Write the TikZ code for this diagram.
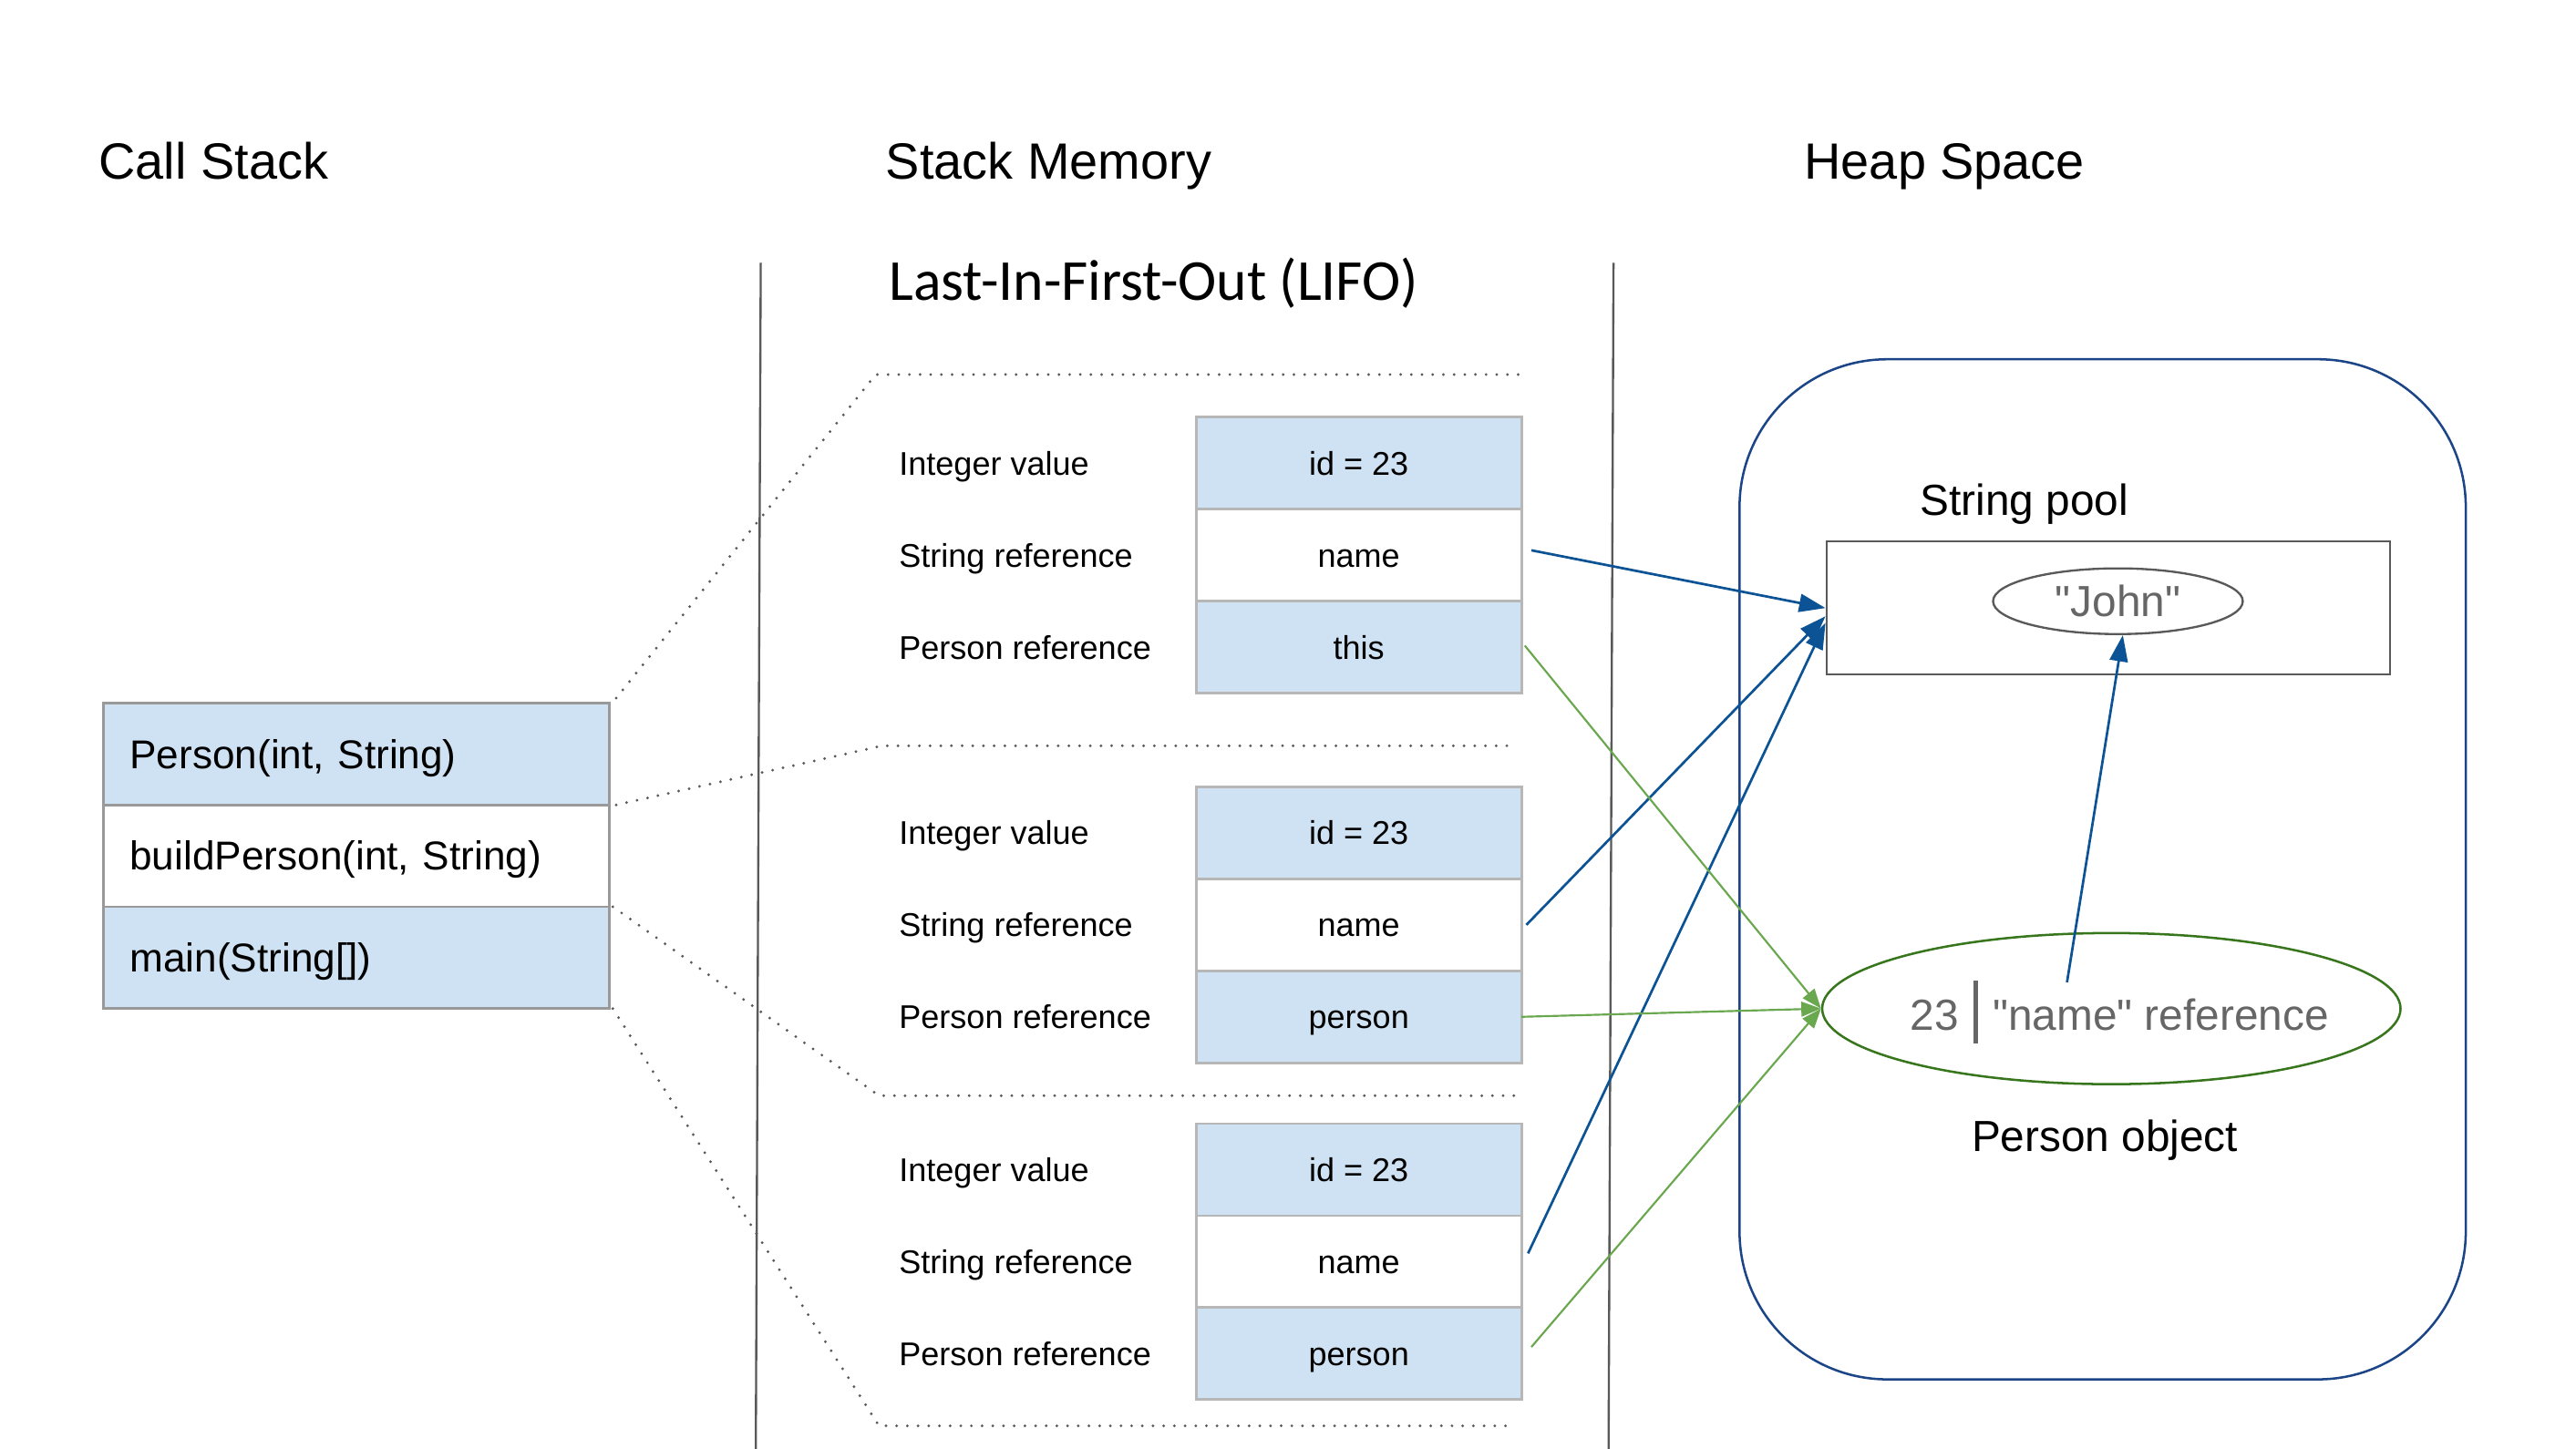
\documentclass[tikz,border=0pt]{standalone}
\usepackage{fontspec}
\setmainfont{Liberation Sans}
\newfontfamily\plainfont{Liberation Sans}
\newfontfamily\lifofont{Carlito}
\usetikzlibrary{positioning,shapes.geometric,arrows.meta}
\definecolor{cellblue}{HTML}{CFE2F3}
\definecolor{cellgrey}{HTML}{B7B7B7}
\definecolor{callgrey}{HTML}{999999}
\definecolor{refblue}{HTML}{0B5394}
\definecolor{refgreen}{HTML}{6AA84F}
\definecolor{objgreen}{HTML}{38761D}
\definecolor{heapblue}{HTML}{1C4587}
\definecolor{linegrey}{HTML}{595959}
\definecolor{textgrey}{HTML}{666666}
\begin{document}
\begin{tikzpicture}[x=1pt, y=-1pt,
    title/.style={font=\fontsize{31}{37}\selectfont, anchor=base west, inner sep=0pt},
    heading/.style={font=\fontsize{26.5}{32}\selectfont, anchor=base, inner sep=0pt},
    callrow/.style={draw=callgrey, line width=1.5pt, outer sep=0pt, text width=276pt, inner xsep=16pt,
        minimum height=62pt, text height=17.5pt, text depth=0pt, align=left, font=\fontsize{24.5}{29}\selectfont},
    slot/.style={draw=cellgrey, line width=1.5pt, outer sep=0pt, minimum width=198pt, minimum height=56pt,
        text height=14.5pt, text depth=0pt, font=\fontsize{20}{24}\selectfont},
    kind/.style={anchor=west, inner sep=0pt, text height=14.5pt, text depth=0pt, font=\fontsize{20}{24}\selectfont},
    frameline/.style={draw=linegrey, line width=1.8pt, line cap=round, dash pattern=on 0pt off 6.5pt},
    divider/.style={draw=linegrey, line width=1.3pt},
    ref/.style={-{Triangle[length=16pt,width=11pt]}, line width=1.5pt, color=refblue},
    objref/.style={-{Triangle[length=12pt,width=9pt]}, line width=1.2pt, color=refgreen}]
\useasboundingbox (0,0) rectangle (1567.8,882);

\node[title] (cstitle) at (60,109) {Call Stack};
\node[title] (smtitle) at (539,109) {Stack Memory};
\node[title] (hstitle) at (1098,109) {Heap Space};
\node[anchor=base west, inner sep=0pt, font=\lifofont\fontsize{35.3}{42}\selectfont] (lifo) at (541,183) {Last-In-First-Out (LIFO)};

\coordinate (d1top) at (463,160);
\coordinate (d1bot) at (460,882);
\coordinate (d2top) at (982,160);
\coordinate (d2bot) at (979,882);
\draw[divider] (d1top) -- (d1bot);
\draw[divider] (d2top) -- (d2bot);

\node[callrow, fill=cellblue, anchor=north west] (ctor) at (63,428) {Person(int, String)};
\node[callrow, below=0pt of ctor] (build) {buildPerson(int, String)};
\node[callrow, fill=cellblue, below=0pt of build] (main) {main(String[])};

\node[slot, fill=cellblue, anchor=north west] (id1) at (728,254) {id = 23};
\node[slot, below=0pt of id1] (name1) {name};
\node[slot, fill=cellblue, below=0pt of name1] (this1) {this};
\node[kind] (int1) at (547,0 |- id1) {Integer value};
\node[kind] (str1) at (547,0 |- name1) {String reference};
\node[kind] (pers1) at (547,0 |- this1) {Person reference};

\node[slot, fill=cellblue, anchor=north west] (id2) at (728,479) {id = 23};
\node[slot, below=0pt of id2] (name2) {name};
\node[slot, fill=cellblue, below=0pt of name2] (person2) {person};
\node[kind] (int2) at (547,0 |- id2) {Integer value};
\node[kind] (str2) at (547,0 |- name2) {String reference};
\node[kind] (pers2) at (547,0 |- person2) {Person reference};

\node[slot, fill=cellblue, anchor=north west] (id3) at (728,684) {id = 23};
\node[slot, below=0pt of id3] (name3) {name};
\node[slot, fill=cellblue, below=0pt of name3] (person3) {person};
\node[kind] (int3) at (547,0 |- id3) {Integer value};
\node[kind] (str3) at (547,0 |- name3) {String reference};
\node[kind] (pers3) at (547,0 |- person3) {Person reference};

\coordinate (f1a) at (533,228);
\coordinate (f1b) at (925,228);
\coordinate (f2a) at (537,454);
\coordinate (f2b) at (922,454);
\coordinate (f3a) at (535,667);
\coordinate (f3b) at (922,667);
\coordinate (f4a) at (535,868);
\coordinate (f4b) at (922,868);
\draw[frameline] ([xshift=4pt,yshift=3pt]ctor.north east) -- (f1a) -- (f1b);
\draw[frameline] ([xshift=4pt]ctor.south east) -- (f2a) -- (f2b);
\draw[frameline] ([xshift=2pt]build.south east) -- (f3a) -- (f3b);
\draw[frameline] ([xshift=2pt]main.south east) -- (f4a) -- (f4b);

\node[draw=heapblue, line width=1.4pt, rounded corners=90pt, minimum width=442pt, minimum height=621pt,
    anchor=north west] (heap) at (1058,218) {};
\node[heading] (pooltitle) at (1232,314) {String pool};
\node[draw=linegrey, line width=1.3pt, minimum width=343pt, minimum height=81pt, inner sep=0pt,
    anchor=north west] (pool) at (1111,329) {};
\node[ellipse, draw=linegrey, line width=1.3pt, minimum width=152pt, minimum height=40pt, inner sep=0pt,
    text=textgrey, font=\plainfont\fontsize{26.5}{32}\selectfont] (john) at (1289,366) {"John"};
\node[ellipse, draw=objgreen, line width=1.4pt, minimum width=352pt, minimum height=92pt, inner sep=0pt] (obj) at (1285,614) {};
\node[text=textgrey, inner sep=0pt, font=\plainfont\fontsize{26.5}{32}\selectfont] (objval) at (1290,616)
    {23\hspace{9pt}\rule[-8pt]{2.8pt}{38pt}\hspace{9pt}"name" reference};
\node[heading] (objtitle) at (1281,701) {Person object};

\draw[ref] ([xshift=6pt,yshift=3pt]name1.east) -- (pool.west);
\draw[ref] ([xshift=3pt]name2.east) -- ([yshift=-5pt]pool.west);
\draw[ref] ([xshift=4pt,yshift=5pt]name3.east) -- ([yshift=-9pt]pool.west);
\draw[ref] ([xshift=-27pt,yshift=16pt]obj.center) -- ([xshift=3pt]john.south);

\draw[objref] ([xshift=2pt,yshift=1pt]this1.east) -- (obj.west);
\draw[objref] (person2.east) -- (obj.west);
\draw[objref] ([xshift=6pt,yshift=4pt]person3.east) -- (obj.west);
\end{tikzpicture}
\end{document}
